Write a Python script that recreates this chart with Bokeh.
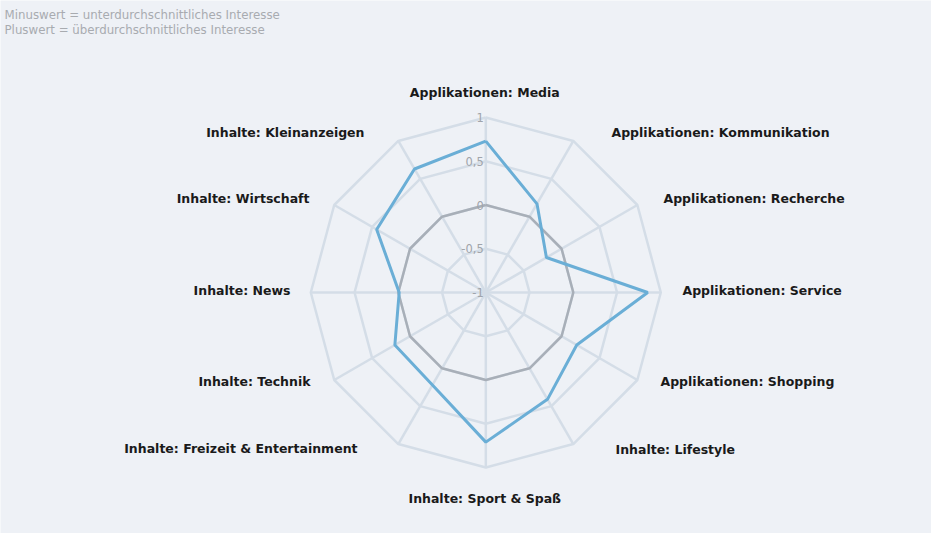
import numpy as np
from bokeh.plotting import figure
from bokeh.models import Range1d, Label
from bokeh.embed import file_html
from bokeh.resources import INLINE

# ---- data ----
categories = [
    "Applikationen: Media",
    "Applikationen: Kommunikation",
    "Applikationen: Recherche",
    "Applikationen: Service",
    "Applikationen: Shopping",
    "Inhalte: Lifestyle",
    "Inhalte: Sport & Spaß",
    "Inhalte: Freizeit & Entertainment",
    "Inhalte: Technik",
    "Inhalte: News",
    "Inhalte: Wirtschaft",
    "Inhalte: Kleinanzeigen",
]
series_values = [0.73, 0.17, -0.20, 0.85, 0.20, 0.41, 0.71, 0.22, 0.20, -0.01, 0.44, 0.63]
baseline_values = [0, 0, 0, 0, 0, 0, 0, 0, 0, 0, 0, 0]
ring_values = [-0.5, 0, 0.5, 1]
tick_values = [1, 0.5, 0, -0.5, -1]
tick_labels = ["1", "0,5", "0", "-0,5", "-1"]
note_lines = ["Minuswert = unterdurchschnittliches Interesse",
              "Pluswert = überdurchschnittliches Interesse"]

# ---- layout ----
W, H = 931, 533
CX, CY = 485.3, 292.0   # center in figure pixels from top-left
R_UNIT = 87.5           # pixels per value unit
V_MIN = -1.0
BG = "#eef1f6"
GRID = "#d4dde7"

p = figure(width=W, height=H, output_backend="svg", toolbar_location=None,
           x_range=Range1d(-CX, W - CX), y_range=Range1d(-(H - CY), CY),
           min_border=0, background_fill_color=BG, border_fill_color=BG,
           outline_line_color=None)
p.axis.visible = False
p.grid.visible = False

n = len(categories)
angles = np.arange(n) * 2 * np.pi / n


def to_xy(vals):
    r = (np.asarray(vals, dtype=float) - V_MIN) * R_UNIT
    return r * np.sin(angles), r * np.cos(angles)


# rings
for rv in ring_values:
    xs, ys = to_xy([rv] * n)
    p.line(list(xs) + [xs[0]], list(ys) + [ys[0]], line_color=GRID, line_width=2.5)
# spokes
ox, oy = to_xy([V_MIN] * n)
ex, ey = to_xy([1] * n)
p.segment(ox, oy, ex, ey, line_color=GRID, line_width=2.5)

# series
bx, by = to_xy(baseline_values)
p.line(list(bx) + [bx[0]], list(by) + [by[0]], line_color="#a8afb8", line_width=2.5)
sx, sy = to_xy(series_values)
p.line(list(sx) + [sx[0]], list(sy) + [sy[0]], line_color="#6aaed6", line_width=3)

# tick labels on the top spoke
for tv, tl in zip(tick_values, tick_labels):
    p.add_layout(Label(x=-2, y=(tv - V_MIN) * R_UNIT, text=tl, text_align="right",
                       text_baseline="middle", text_font="DejaVu Sans",
                       text_font_size="11.5px", text_color="#a0a4aa"))

# category labels: (dx, dy) offset of anchor from center in pixels, alignment
label_pos = [(-1, 200, "center"), (125.7, 160, "left"), (177.7, 94, "left"),
             (196.7, 2, "left"), (174.7, -89, "left"), (129.7, -157, "left"),
             (-1, -206, "center"), (-128.3, -156, "right"), (-175.3, -89, "right"),
             (-195.3, 2, "right"), (-176.3, 94, "right"), (-121.3, 160, "right")]
for cat, (dx, dy, al) in zip(categories, label_pos):
    p.add_layout(Label(x=dx, y=dy, text=cat, text_align=al, text_baseline="middle",
                       text_font="DejaVu Sans", text_font_style="bold",
                       text_font_size="12.5px", text_color="#1a1a1a"))

# note text top-left
for i, line in enumerate(note_lines):
    p.add_layout(Label(x=4, y=H - 14 - i * 15, x_units="screen", y_units="screen",
                       text=line, text_baseline="middle", text_font="DejaVu Sans",
                       text_font_size="11.8px", text_color="#a8abb0"))

open("out.html", "w").write(file_html(p, INLINE))
